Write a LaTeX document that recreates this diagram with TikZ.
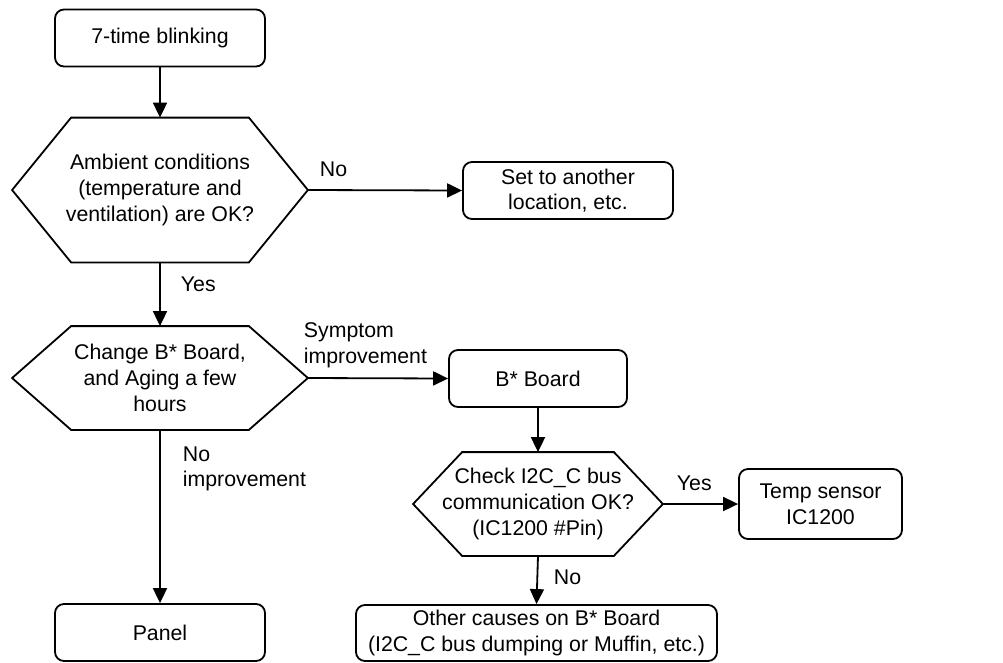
\documentclass[tikz,border=0pt]{standalone}
\usepackage{fontspec}
\setmainfont{Liberation Sans}
\usetikzlibrary{arrows.meta}
\newcommand\hexoutline[2]{\draw ([xshift=#2]#1.north west) -- ([xshift=-#2]#1.north east) -- (#1.east) -- ([xshift=-#2]#1.south east) -- ([xshift=#2]#1.south west) -- (#1.west) -- cycle;}
\begin{document}
\begin{tikzpicture}[x=1pt,y=-1pt,
  font=\fontsize{21.3}{25.7}\selectfont,
  line width=1.8pt,
  box/.style={draw, rounded corners=9pt, align=center, inner sep=0pt, minimum height=57pt},
  hexa/.style={draw=none, align=center, inner sep=0pt, minimum width=294pt},
  conn/.style={-{Triangle[length=15pt,width=14pt]}},
  lab/.style={align=left, inner sep=0pt, anchor=west}]
\clip (0,0) rectangle (1003,662);
\fill[white] (0,0) rectangle (1003,662);
% left column
\node[box, minimum width=210pt] (start) at (160,38) {7-time blinking};
\node[hexa, minimum height=143pt] (hexA) at (160,190) {Ambient conditions\\(temperature and\\ventilation) are OK?};
\hexoutline{hexA}{59pt}
\node[hexa, minimum height=102pt] (hexB) at (160,378) {Change B* Board,\\and Aging a few\\hours};
\hexoutline{hexB}{59pt}
\node[box, minimum width=210pt] (panel) at (160,632.5) {Panel};
% right column
\node[box, minimum width=210pt] (loc) at (568,190.5) {Set to another\\location, etc.};
\node[box, minimum width=178pt] (board) at (538,378.5) {B* Board};
\node[hexa, minimum height=102pt, minimum width=248pt] (hexC) at (538,504) {Check I2C\_C bus\\communication OK?\\(IC1200 \#Pin)};
\hexoutline{hexC}{49pt}
\node[box, minimum width=163pt, minimum height=70pt] (temp) at (820.5,504) {Temp sensor\\IC1200};
\node[box, minimum width=361pt, minimum height=56pt] (other) at (536.5,633) {Other causes on B* Board\\(I2C\_C bus dumping or Muffin, etc.)};
% connectors
\draw[conn] (start.south) -- (hexA.north);
\draw[conn] (hexA.east) -- (loc.west);
\draw[conn] (hexA.south) -- (hexB.north);
\draw[conn] (hexB.east) -- (board.west);
\draw[conn] (hexB.south) -- (panel.north);
\draw[conn] (board.south) -- (hexC.north);
\draw[conn] (hexC.east) -- (temp.west);
\draw[conn] (hexC.south) -- (other.north);
% labels
\node[lab] (lNoA) at (319,169) {No};
\node[lab] (lYesA) at (180,284) {Yes};
\node[lab] (lSym) at (303,345) {Symptom\\improvement};
\node[lab] (lNoImp) at (182,469) {No\\improvement};
\node[lab] (lYesC) at (676,483) {Yes};
\node[lab] (lNoC) at (553,577) {No};
\end{tikzpicture}
\end{document}
